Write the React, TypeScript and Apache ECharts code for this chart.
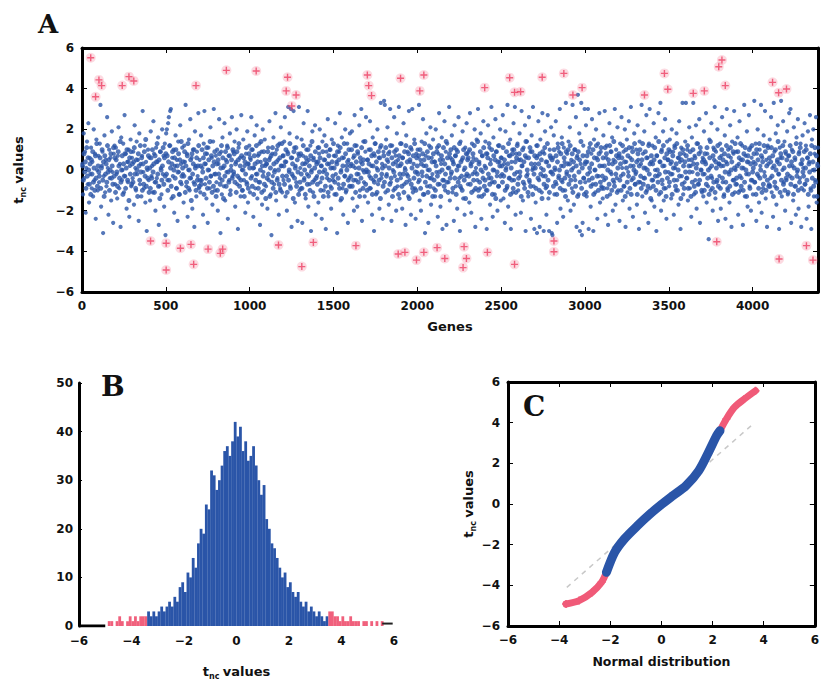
import React, { useEffect, useRef } from "react";
import * as echarts from "echarts";

// ---------- Panel A: t_nc value of every 4th gene (blue = non-outlier) ----------
const GENE_STEP = 4;
const blueG0 = [
  .3,-1.2,1.8,-.4,.9,-2.1,.1,1.4,-.7,2.3,-1.6,.6,-.2,1.1,-.9,.4,-1.3,2.0,-.5,.8,-2.4,1.5,.0,-1.0,.7,
  -.6,1.3,3.2,-1.8,.2,.9,-3.1,-.3,1.7,-1.1,.5,-.8,2.6,.1,-2.2,1.0,-.4,.6,-1.5,1.9,-.1,-2.6,.8,1.2,-.7,
  1.1,-.2,-1.4,.7,2.1,-.9,.3,-2.8,1.6,-.5,.0,1.3,-1.1,2.7,-.3,.8,-1.9,.4,-.6,1.0,-2.3,.2,1.5,-.8,.6,
  -.4,.9,-1.7,2.2,.1,-1.0,1.4,-.2,.5,-2.5,1.8,-.7,.3,-1.3,.7,2.9,-.1,-.9,1.2,-1.6,.4,-3.0,.0,1.0,-.5,
  .6,-1.5,1.9,-.3,.2,-1.1,2.4,.8,-.6,-2.0,1.1,-.4,.4,1.6,-2.7,-.8,.9,.1,-1.2,2.0,-.2,.7,-1.8,1.3,-3.2,
  1.8,2.0,-.5,2.3,2.6,1.2,2.9,3.0,-1.4,.6,-.3,1.0,-2.1,.2,1.7,-.9,.5,-2.5,1.4,-.1,-1.2,2.2,.3,-.7,1.1,
  -.2,-1.6,1.2,.4,3.2,-.8,.8,-2.3,.0,1.5,-1.0,2.5,-.4,.6,-1.9,1.0,-.6,-2.8,1.9,.2,-1.3,.9,-.3,2.8,-.9,
  .5,-1.1,1.7,-.5,.1,-2.2,1.3,2.9,-.7,.3,-1.4,.8,-2.6,1.1,.0,-.9,2.1,-.3,.6,-1.7,1.4,3.0,-.2,-1.0,.7,
  -.6,1.0,-2.0,.3,2.5,-.4,-3.1,.9,-1.2,1.6,.1,-.8,2.3,-1.5,.5,-.1,1.2,-2.4,.7,-.5,1.8,-1.0,.2,2.6,-.3,
  .9,-.2,1.4,-1.8,.4,2.0,-.7,-2.9,1.1,-.4,.6,-1.3,2.7,.0,-1.0,1.5,-.5,.2,-2.1,.8,-.6,1.9,-1.6,.3,1.2,
  -1.1,.5,2.6,-.3,1.0,-2.3,.1,1.7,-.9,-.2,2.2,-1.4,.7,-.6,1.3,-2.7,.4,.9,-1.7,2.0,-.1,-1.0,1.5,.2,-.8,
];
const blueG1 = [
  .3,-1.9,1.1,-.5,2.4,.6,-1.2,-3.2,.8,-.3,1.6,-.7,.0,2.8,-1.5,1.0,-.4,.5,-2.2,1.3,-.9,2.1,.2,-1.1,.7,
  -.5,1.4,2.6,-1.3,.4,-2.0,.9,3.1,-.1,1.8,-.8,3.0,-2.8,.6,-.3,2.9,1.1,-1.6,.2,-.6,1.6,-2.5,.8,3.1,-1.0,
  .1,-.9,1.5,-2.6,.7,2.3,-.4,.3,-1.4,1.0,-.2,2.9,-1.8,.5,-.7,1.2,-3.0,.0,1.9,-1.1,.6,-.5,2.2,-2.2,.4,
  -.3,1.1,-1.6,.8,2.0,-.6,.2,-2.4,1.4,-.1,-1.0,1.7,.5,-2.9,.9,-.4,2.5,-1.3,.3,1.0,-.8,-1.9,1.5,.1,-.5,
  .7,-1.2,2.3,-.2,.4,-3.1,1.2,-.7,.9,2.8,-1.5,.0,1.6,-.9,-2.2,.6,-.3,2.0,-1.1,.2,1.3,-2.6,.5,-.4,1.8,
  -.8,.3,1.9,-1.4,.6,-2.0,2.7,.1,-.5,1.2,-1.8,.8,-.2,2.2,-1.0,.4,3.0,-2.5,.0,1.4,-.6,-1.3,.9,2.6,-.1,
  .5,-1.6,1.0,-.3,2.4,-.9,.2,-2.2,1.6,-.5,-3.0,.7,1.3,-1.2,.1,2.0,-.7,.6,-1.9,1.1,3.3,-.4,.3,-2.4,.9,
  3.4,3.2,-1.1,1.5,-.2,2.1,.4,-1.7,.9,3.0,-.6,-2.5,1.2,.0,-1.0,2.6,-.3,.7,-2.0,1.8,-.8,.5,3.1,-1.4,.2,
  -.4,1.3,-1.9,.6,2.3,-.7,.1,-2.7,1.7,-.2,.9,-1.3,2.9,-.5,.4,-2.2,1.0,3.0,-1.1,.3,1.5,-.9,-2.4,.8,-.1,
  1.0,-.6,3.2,-1.5,.5,-2.0,1.4,-.3,2.5,.2,-1.2,-3.1,.7,1.8,-.8,.0,-2.6,1.2,-.4,2.1,-1.7,.6,-.2,1.5,-.9,
  .4,-1.3,2.0,-.1,1.1,-2.3,.8,2.8,-.7,-1.8,.3,1.6,-2.9,.5,-.5,2.4,-1.0,.9,-2.7,1.3,.1,-.6,3.1,-1.5,.6,
];
const blueG2 = [
  -.2,1.7,-1.1,.4,-2.5,2.2,.7,-.8,1.0,-1.9,.2,2.6,-.4,-3.0,1.4,-.9,.5,1.9,-1.4,.0,-2.2,1.1,-.3,2.3,.8,
  -.7,.9,-1.6,2.8,.3,-2.1,1.3,-.2,.6,-1.0,2.0,-2.8,.1,1.5,-.5,3.0,-1.3,.4,-.9,1.8,-2.4,.7,-.1,2.4,-1.2,
  .2,1.4,-1.0,-2.9,.8,2.2,-.4,1.1,-1.7,.5,3.1,-.6,-2.3,1.6,.0,-1.2,2.5,.9,-.3,-2.0,1.2,-.8,.4,2.0,-1.5,
  .6,-.2,2.7,-1.4,.3,-2.6,1.9,.1,-.9,3.2,-1.8,.7,-.4,1.5,-2.9,.4,1.0,-1.1,2.3,-.5,3.1,-2.2,.8,-.1,1.3,
  -1.0,.5,1.8,-.3,-2.1,2.9,.2,-1.5,1.1,-.7,2.2,-3.0,.6,1.4,-.2,-1.3,2.6,-.6,.9,-2.4,1.7,.0,3.1,-.8,-2.9,
  .3,-1.6,1.2,-3.1,.7,2.4,-.5,-2.8,1.5,.1,-1.1,2.8,-.3,-3.0,.8,1.9,-.9,-2.2,.4,2.7,-1.4,-3.0,1.0,-.1,2.1,
  -3.1,-3.2,.6,1.7,-1.2,.0,2.4,-.7,-2.6,1.3,-.4,.9,3.0,-1.9,.2,1.6,-.6,-2.3,1.1,.4,-1.0,3.3,-.2,.8,-1.5,
  1.4,-.3,2.1,-2.0,.5,-.9,3.2,.1,-1.7,1.0,-.5,2.6,-2.8,.7,3.7,-1.2,1.8,-3.0,.3,3.3,-3.2,-2.6,1.2,-.4,3.0,
  -.6,2.2,-1.3,.4,3.0,-2.9,1.1,-.1,-1.8,.8,2.5,-.7,-3.0,1.5,.0,-1.1,2.0,.6,-2.4,1.3,-.3,2.8,-1.6,.9,-.8,
  .2,-1.4,1.7,-.5,2.9,-2.2,.6,1.2,-.9,-2.7,.3,2.3,-1.2,.9,-.2,1.6,-2.0,.5,-.6,3.0,-1.7,1.0,-.4,2.1,-1.0,
  .7,-2.5,1.3,-.3,2.6,.1,-1.5,.9,-.8,2.0,-2.8,.4,1.5,-1.1,-.1,2.4,-1.9,.6,3.1,-.5,1.1,-2.3,.2,1.8,-.7,
];
const blueG3 = [
  -.2,1.0,-1.7,2.2,.5,-2.9,1.4,-.6,.3,3.2,-1.3,.8,-.4,1.9,-2.1,.1,2.7,-1.0,.6,-2.6,1.3,3.0,-.9,.4,-1.5,
  1.2,-.5,2.3,-1.8,.0,1.6,-3.0,.7,-.3,2.8,-1.2,.4,3.3,-2.0,1.0,-.7,1.9,-1.5,.2,2.5,-.9,-2.4,1.4,.5,-.1,
  -.8,1.5,.3,-1.4,2.0,-.2,.9,-2.2,1.2,.1,-1.0,1.8,-.5,.6,-1.7,2.4,.4,-2.9,1.1,-.3,3.3,-1.2,.8,-.6,1.4,
  3.3,-.4,1.0,-1.5,.5,2.1,-.9,.2,-2.3,1.6,-.1,3.3,-1.2,.7,-.5,2.2,-1.9,.3,1.3,-.7,2.5,-2.6,.9,.0,-1.1,
  .6,-1.3,1.9,-.2,.4,2.8,-1.6,.8,-.8,-3.4,1.5,.1,-1.0,2.3,-.4,-2.0,1.1,.5,3.1,-1.4,.9,-.6,2.0,-2.5,.3,
  -.3,1.3,-1.9,.7,2.6,-.6,.2,-1.2,1.7,-2.4,.4,3.0,-.9,1.0,-.1,-1.6,2.2,.6,-2.8,1.4,-.5,.8,2.9,-1.1,.0,
  .9,-.7,1.6,-2.2,.3,2.4,-1.0,.5,-.4,1.2,-2.7,.1,3.2,-1.3,.7,-.2,1.9,-1.8,.4,2.7,-.8,1.1,-2.0,.6,-.5,
  -1.2,.4,3.4,-.6,1.3,-2.5,.8,2.0,-.3,-1.6,1.0,.2,3.2,-2.1,.6,-.9,1.7,-.1,2.9,-1.4,.5,-2.8,1.2,.3,-.7,
  1.5,-.4,2.6,-1.1,.1,-2.3,3.3,.9,-.8,1.8,-1.7,.4,2.2,-.2,-2.9,1.1,.6,3.4,-1.3,.0,2.4,-.6,1.4,-2.0,.8,
  -.5,1.9,-1.2,.7,2.8,-.3,3.0,-2.6,1.0,.2,-1.5,2.1,-.8,.5,-2.2,1.6,-.1,2.5,-1.9,.9,-.4,1.3,-2.8,.3,1.7,
  .1,-1.0,2.3,-.7,1.2,-2.4,.6,1.9,-1.8,.4,2.7,-.9,-2.9,1.5,.0,2.0,-1.3,.8,-.5,2.6,-1.6,.3,1.1,-2.2,.5,
];
// the remaining genes (offset by two), mostly in the dense central band
const coreG0 = [
  .2,-.5,.8,-.1,.4,-.9,1.1,-.3,.6,.0,-.7,.3,-1.2,.5,-.2,.9,-.6,.1,-1.0,.7,-.4,1.3,-.8,.2,-.1,
  -.3,.6,-.9,.1,1.0,-.5,.4,-1.3,.7,-.2,.3,-.6,1.2,-.1,.5,-1.0,.0,.8,-.4,.2,-.7,1.1,-.3,.6,-1.1,
  .5,-.1,-.8,.9,.2,-.4,1.4,-.6,.0,.7,-1.2,.3,-.3,.8,-.9,.1,1.0,-.5,.4,-1.5,.6,-.2,.9,-.7,.3,
  -.6,.4,1.1,-.2,-.9,.5,.0,-1.3,.8,.2,-.5,1.2,-.1,.6,-1.0,.3,-.7,.9,-.3,1.5,-.8,.1,-.4,.7,-1.1,
  .1,-.9,.6,-.4,1.0,-.1,.3,-1.1,.7,-.6,.4,1.3,-.2,-.8,.5,-1.4,.9,.0,-.5,.2,1.1,-.7,.6,-.3,.8,
  -.2,.7,-1.0,.4,-.5,1.2,.1,-.8,.3,.9,-1.3,.0,.6,-.4,1.0,-.9,.2,-.1,.8,-1.2,.5,-.6,1.4,-.3,.1,
  .4,-.3,.9,-1.1,.2,-.6,.7,1.3,-.9,.0,-.4,.5,-1.5,.8,-.2,.3,1.0,-.7,.1,-1.0,.6,-.5,.2,1.2,-.8,
  -.5,.2,-.7,1.0,-.1,.6,-1.2,.3,.8,-.4,1.1,-.9,.0,.5,-.6,1.4,-.3,.7,-1.1,.2,-.8,.4,.9,-.2,-1.3,
  .3,-1.0,.5,-.2,.8,-.7,.1,1.2,-.5,.6,-1.4,.2,-.3,.9,-.8,.4,1.1,-.1,-.6,.7,-1.2,.0,.5,-.4,1.0,
  -.1,.8,-.6,.3,-1.1,.9,-.3,.5,1.3,-.8,.2,-.5,.7,-1.0,.0,.6,-1.3,.4,-.2,1.1,-.7,.3,-.9,.8,.1,
  .6,-.4,1.0,-.8,.1,-1.2,.7,.3,-.5,1.2,-.2,.4,-.9,.8,-.6,.0,1.4,-1.1,.2,-.3,.9,-.7,.5,-1.4,.3,
];
const coreG1 = [
  -.4,.9,-.2,.5,-1.3,.1,.7,-.6,1.1,-.9,.3,-.1,.8,-1.1,.4,-.5,1.2,.0,-.7,.6,-1.0,.2,1.3,-.3,.7,
  .2,-.7,.4,1.0,-.3,-1.1,.8,-.5,.0,1.3,-.9,.6,-.2,.3,-1.4,.9,-.4,.1,1.1,-.8,.5,-.1,-1.2,.7,-.6,
  .8,-.2,-.9,.3,1.2,-.5,.0,-1.2,.6,.4,-.7,1.0,-.3,.2,-1.0,.7,-.1,1.4,-.6,.5,-1.3,.1,.9,-.4,.3,
  -.7,.4,1.1,-.1,.6,-1.0,.2,-.4,.9,-1.3,.5,.0,-.8,1.2,-.2,.3,-1.1,.7,-.5,1.0,.1,-.9,.4,-.3,1.3,
  .1,-.6,.7,-1.2,.3,.9,-.4,.5,-.9,1.1,-.1,-1.4,.6,.2,-.7,1.3,-.3,.8,-1.0,.0,.4,-.5,1.0,-.8,.2,
  -.3,1.0,-.8,.2,-.5,.7,1.2,-1.1,.4,-.2,.9,-.6,.1,-1.3,.6,-.4,1.1,.3,-.9,.5,-.1,1.4,-.7,.0,-1.0,
  .5,-.1,.3,-.9,1.0,-.4,.7,-1.2,.2,.8,-.6,1.3,-.3,.4,-1.1,.0,.9,-.5,.6,-1.4,1.2,-.2,.1,-.8,.7,
  -.6,.2,1.1,-.3,.5,-1.0,.8,.1,-.7,1.2,-.4,.6,-1.3,.3,-.1,.9,-.9,.4,1.0,-.5,.2,-1.2,.7,-.2,1.3,
  .3,-.8,.6,-.2,-1.1,.9,.0,1.2,-.6,.4,-.3,.8,-1.4,.5,1.1,-.7,.1,-.9,.7,-.4,1.3,-.1,-1.0,.6,.2,
  -.2,.7,-.5,1.0,-.9,.3,-.1,.8,-1.2,.5,1.3,-.6,.2,-.3,.9,-1.1,.6,.0,-.8,1.1,-.4,.4,-1.3,.8,-.5,
  .4,-1.0,.2,.9,-.3,-.7,1.2,-.1,.5,-1.3,.7,.0,-.5,1.1,-.8,.3,-.2,1.4,-.6,.6,-1.1,.1,.8,-.4,1.0,
];
const coreG2 = [
  -.1,.5,-.9,.3,1.1,-.4,.7,-1.2,.0,.9,-.6,.2,1.3,-.8,.4,-.3,-1.0,.6,1.0,-.5,.1,-1.4,.8,-.2,.5,
  .6,-.3,1.0,-.7,.2,-1.1,.4,.8,-.5,1.2,-.1,-.9,.5,-.2,1.4,-1.0,.3,-.6,.9,.0,-1.3,.7,-.4,1.1,-.8,
  -.5,.1,.8,-1.0,.6,-.2,1.3,-.7,.3,-.4,1.0,-1.2,.0,.7,-.6,.5,-1.4,.9,-.1,.4,-.8,1.2,.2,-.3,.6,
  .2,-.6,1.1,-.3,.5,-1.0,.0,.9,-.8,.3,1.3,-.4,.7,-1.2,.1,-.5,.8,-.9,1.0,-.2,.4,-1.1,.6,1.2,-.7,
  -.4,.8,-.1,.5,-1.3,.2,1.0,-.6,.4,-.9,.7,1.4,-.3,.0,-1.1,.6,-.5,1.1,-.8,.3,.9,-1.2,.1,-.2,.7,
  .1,-.9,.6,1.2,-.4,.3,-1.0,.8,-.2,.5,-1.4,.9,.0,-.7,1.1,-.3,.4,-.8,1.3,-.5,.2,-1.1,.7,.6,-.1,
  .5,-.2,-.8,1.0,.1,-.6,.7,-1.2,.4,1.1,-.3,.0,-.9,.8,-.5,1.3,-1.0,.2,.6,-.4,-1.3,.9,-.1,.3,1.0,
  -.7,.3,1.2,-.5,.0,.8,-1.1,.4,-.3,1.0,-.8,.2,.6,-1.3,.9,-.1,.5,-.6,1.4,-.9,.1,.7,-.4,-1.2,.3,
  .4,-1.1,.7,-.2,.9,-.5,.1,1.3,-.8,.3,-.4,1.0,-1.2,.6,.0,-.7,1.2,-.3,.5,-1.0,.8,.2,-.6,1.1,-.9,
  -.3,.6,-.9,.2,1.1,-.4,.8,-1.3,.0,.5,-.7,1.2,-.1,.9,-1.0,.3,-.5,1.4,-.8,.4,-.2,.7,-1.1,.1,.6,
  .8,-.5,.3,-1.0,.6,1.2,-.2,-.8,.4,-1.3,1.0,.1,-.6,.7,-.3,1.1,-.9,.2,-1.2,.5,.9,-.4,.0,1.3,-.7,
];
const coreG3 = [
  -.1,.4,-1.2,.8,-.6,.2,1.0,-.3,-.9,.5,1.3,-.7,.1,-.4,.9,-1.1,.6,.0,-.8,1.2,-.2,.3,-1.4,.7,-.5,
  .3,-.8,.5,1.1,-.3,-1.0,.7,.0,-.6,1.4,-.2,.4,-1.1,.9,-.5,.2,1.2,-.9,.6,-.1,-1.3,.8,-.4,.5,1.0,
  -.6,.9,-.2,.4,-1.2,.7,.1,-.5,1.1,-.8,.3,1.3,-1.0,.0,.6,-.3,.8,-1.4,.5,-.7,1.0,.2,-.9,.4,-.1,
  .7,-.4,1.2,-.9,.2,-.1,.9,-1.3,.5,-.6,1.0,.3,-.8,.6,-1.1,.1,1.3,-.2,-.7,.8,-.5,1.1,.0,-1.0,.4,
  -.2,.5,-1.0,.8,.3,-.7,1.1,-.4,.0,-1.2,.6,1.4,-.3,.2,-.9,.7,-.6,1.0,-1.1,.4,.1,-.5,1.2,-.8,.3,
  .6,-.9,.2,1.0,-.4,.5,-1.3,.8,-.1,-.6,1.2,.3,-1.0,.7,-.2,-.8,1.1,.0,.4,-1.2,.9,-.5,.1,1.3,-.7,
  -.4,.2,.9,-1.1,.6,-.3,1.3,-.8,.1,.5,-1.0,.8,-.6,1.1,.0,-1.3,.4,.7,-.2,1.0,-.9,.3,-.5,1.2,-.1,
  .1,.8,-.6,.3,-1.2,1.0,-.2,.5,-.9,1.3,-.4,.0,.7,-1.1,.4,-.7,1.2,-.3,.9,-1.0,.2,-.5,1.1,-.8,.6,
  -.8,.4,1.1,-.3,.7,-1.3,.2,-.6,1.0,.0,-.9,.5,1.4,-.2,.3,-1.1,.8,-.5,.6,1.2,-.7,.1,-1.0,.9,-.4,
  .5,-.2,-1.1,.7,.2,1.2,-.7,.4,-.4,.9,-1.2,.1,.6,-.8,1.3,-.3,.0,-1.0,.8,-.6,1.1,.3,-.9,.5,-.1,
  -.3,.9,-.7,.1,1.0,-.5,.6,-1.2,.3,-.1,.8,-1.0,1.2,-.4,.4,-.8,.0,1.1,-.6,.7,-1.3,.2,.9,-.2,.5,
];

// outlier genes (red crosses)
const redGenes = [
  52,101,117,81,280,309,240,680,861,1039,409,502,587,650,752,839,825,502,666,
  1226,1218,1277,1251,1702,1710,1727,1900,2039,2015,1172,1380,1634,1311,1886,1926,1995,2039,2118,2164,
  2402,2551,2580,2616,2745,2874,2983,2928,2279,2293,2273,2418,2580,2815,2815,
  3474,3494,3355,3646,3712,3817,3798,3837,4119,4155,4202,3786,4321,4158,4360,
];
const redVals = [
  5.52,4.43,4.15,3.6,4.59,4.38,4.15,4.15,4.9,4.87,-3.49,-3.6,-3.85,-3.66,-3.89,-3.89,-4.1,-4.92,-4.64,
  4.56,3.89,3.69,3.15,4.67,4.15,3.66,4.51,4.67,3.89,-3.69,-3.56,-3.72,-4.75,-4.13,-4.05,-4.43,-4.05,-3.82,-4.35,
  4.05,4.54,3.82,3.85,4.56,4.75,4.05,3.69,-3.77,-4.35,-4.8,-4.05,-4.64,-3.49,-4.02,
  4.75,3.97,3.69,3.77,3.89,5.41,5.08,4.15,4.31,3.8,3.98,-3.53,-3.72,-4.38,-4.43,
];

// ---------- Panel B: histogram of t_nc values ----------
const HIST_START = -5;
const HIST_BIN = 0.1;
const histCounts = [
  0,1,1,0,1,2,1,0,1,2,1,2,1,2,2,2,3,2,3,2,
  3,4,3,4,5,4,6,5,8,9,7,11,10,14,12,17,20,19,25,24,
  32,31,28,30,33,36,37,35,38,42,39,41,36,38,34,35,37,33,30,27,
  29,22,20,17,16,14,12,10,11,8,9,7,6,7,5,4,5,3,4,3,
  2,3,2,1,2,3,3,2,2,1,2,1,1,2,1,1,1,0,1,1,
  0,1,0,1,0,1,0,0,0,0,
];
const histLowCut = -3.4;
const histHighCut = 3.5;
const histBaseLeft = [[-6, 0], [-5, 0]];
const histBaseRight = [[5.55, 0.5], [5.95, 0.5]];

// ---------- Panel C: normal probability plot ----------
const qqRedLowQ = [-3.73, -3.22, -2.72, -2.34, -2.15];
const qqRedLowV = [-4.92, -4.75, -4.35, -3.85, -3.36];
const qqBlueQ = [-2.15, -1.83, -1.45, -0.94, -0.44, 0.0, 0.45, 0.96, 1.46, 1.84, 2.16, 2.29];
const qqBlueV = [-3.36, -2.38, -1.72, -1.07, -0.49, -0.03, 0.41, 0.9, 1.64, 2.54, 3.36, 3.6];
const qqRedHighQ = [2.29, 2.54, 2.86, 3.24, 3.68];
const qqRedHighV = [3.6, 4.18, 4.76, 5.16, 5.57];
const qqRefQ = [-3.7, 3.6];
const qqRefV = [-4.1, 3.95];

const BLUE = "#2a55a8";
const RED = "#ec3f63";
const FONT = "DejaVu Sans";
const PLUS = "path://M4,0h2v4h4v2h-4v4h-2v-4h-4v-2h4z";

const minus = (v: number) => String(v).replace("-", "\u2212");
const tickLabel = { fontFamily: FONT, fontWeight: "bold", fontSize: 12, color: "#111", formatter: minus };
const nameRich = {
  t: { fontFamily: FONT, fontWeight: "bold", fontSize: 13, color: "#111", lineHeight: 18, verticalAlign: "middle" },
  s: { fontFamily: FONT, fontWeight: "bold", fontSize: 8, color: "#111", lineHeight: 18, verticalAlign: "bottom" },
};
const tncName = "{t|t}{s|nc} {t|values}";

const frameAxis = (show: boolean) => ({
  axisLine: { show: true, onZero: false, lineStyle: { color: "#000", width: 3 } },
  axisTick: { show: true, inside: true, length: 5, lineStyle: { color: "#000", width: 1 } },
  splitLine: { show: false },
  axisLabel: show ? { ...tickLabel, margin: 8 } : { show: false },
});

function buildOption() {
  const bluePts = [...blueG0, ...blueG1, ...blueG2, ...blueG3].map((v, i) => [i * GENE_STEP + 2, v]);
  const corePts = [...coreG0, ...coreG1, ...coreG2, ...coreG3].map((v, i) => [i * GENE_STEP + 4, v]);
  const redPts = redGenes.map((g, i) => [g, redVals[i]]);
  const histData = histCounts.map((c, i) => {
    const x = Math.round((HIST_START + HIST_BIN * (i + 0.5)) * 100) / 100;
    const red = x < histLowCut || x > histHighCut;
    return { value: [x, c], itemStyle: { color: red ? "#f0607c" : BLUE } };
  });
  const zip = (a: number[], b: number[]) => a.map((q, i) => [q, b[i]]);

  return {
    animation: false,
    backgroundColor: "#fff",
    title: [
      { text: "A", left: 33, top: 6, textStyle: { fontFamily: "DejaVu Serif", fontWeight: "bold", fontSize: 26, color: "#111" } },
      { text: "B", left: 96, top: 367, textStyle: { fontFamily: "DejaVu Serif", fontWeight: "bold", fontSize: 28, color: "#111" } },
      { text: "C", left: 518, top: 387, textStyle: { fontFamily: "DejaVu Serif", fontWeight: "bold", fontSize: 28, color: "#111" } },
    ],
    grid: [
      { left: 82, top: 48, width: 736, height: 244, containLabel: false },
      { left: 79, top: 383, width: 315, height: 243, containLabel: false },
      { left: 508, top: 382, width: 313, height: 244, containLabel: false },
    ],
    xAxis: [
      {
        gridIndex: 0, type: "value", min: 0, max: 4390, interval: 500, position: "bottom",
        ...frameAxis(true),
        axisLabel: { ...tickLabel, margin: 8, showMaxLabel: false },
        name: "Genes", nameLocation: "middle", nameGap: 28,
        nameTextStyle: { fontFamily: FONT, fontWeight: "bold", fontSize: 13, color: "#111" },
      },
      { gridIndex: 0, type: "value", min: 0, max: 4390, interval: 500, position: "top", ...frameAxis(false) },
      {
        gridIndex: 1, type: "value", min: -6, max: 6, interval: 2, position: "bottom",
        axisLine: { show: false, onZero: false }, axisTick: { show: false }, splitLine: { show: false },
        axisLabel: { ...tickLabel, margin: 9 },
        name: tncName, nameLocation: "middle", nameGap: 36, nameTextStyle: { rich: nameRich },
      },
      {
        gridIndex: 2, type: "value", min: -6, max: 6, interval: 2, position: "bottom",
        ...frameAxis(true),
        name: "Normal distribution", nameLocation: "middle", nameGap: 29,
        nameTextStyle: { fontFamily: FONT, fontWeight: "bold", fontSize: 12.5, color: "#111" },
      },
      { gridIndex: 2, type: "value", min: -6, max: 6, interval: 2, position: "top", ...frameAxis(false) },
    ],
    yAxis: [
      {
        gridIndex: 0, type: "value", min: -6, max: 6, interval: 2, position: "left",
        ...frameAxis(true),
        name: tncName, nameLocation: "middle", nameGap: 55, nameTextStyle: { rich: nameRich },
      },
      { gridIndex: 0, type: "value", min: -6, max: 6, interval: 2, position: "right", ...frameAxis(false) },
      {
        gridIndex: 1, type: "value", min: 0, max: 50, interval: 10, position: "left",
        axisLine: { show: true, onZero: false, lineStyle: { color: "#000", width: 3 } },
        axisTick: { show: true, inside: true, length: 3, lineStyle: { color: "#000" } },
        splitLine: { show: false },
        axisLabel: { ...tickLabel, margin: 6 },
      },
      {
        gridIndex: 2, type: "value", min: -6, max: 6, interval: 2, position: "left",
        ...frameAxis(true),
        name: tncName, nameLocation: "middle", nameGap: 28, nameTextStyle: { rich: nameRich },
      },
      { gridIndex: 2, type: "value", min: -6, max: 6, interval: 2, position: "right", ...frameAxis(false) },
    ],
    series: [
      // A
      {
        type: "scatter", xAxisIndex: 0, yAxisIndex: 0, data: corePts, symbol: "circle", symbolSize: 5,
        itemStyle: { color: BLUE }, silent: true, z: 2,
      },
      {
        type: "scatter", xAxisIndex: 0, yAxisIndex: 0, data: bluePts, symbol: "circle", symbolSize: 4.2,
        itemStyle: { color: BLUE }, silent: true, z: 2,
      },
      {
        type: "scatter", xAxisIndex: 0, yAxisIndex: 0, data: redPts, symbol: "circle", symbolSize: 10,
        itemStyle: { color: "rgba(240,90,120,0.28)" }, silent: true, z: 3,
      },
      {
        type: "scatter", xAxisIndex: 0, yAxisIndex: 0, data: redPts, symbol: PLUS, symbolSize: 7,
        itemStyle: { color: RED }, silent: true, z: 4,
      },
      // B
      {
        type: "bar", xAxisIndex: 2, yAxisIndex: 2, data: histData, barWidth: 2.8, silent: true, z: 2,
      },
      {
        type: "line", xAxisIndex: 2, yAxisIndex: 2, data: histBaseLeft, symbol: "none",
        lineStyle: { color: "#000", width: 3 }, silent: true, z: 3,
      },
      {
        type: "line", xAxisIndex: 2, yAxisIndex: 2, data: histBaseRight, symbol: "none",
        lineStyle: { color: "#222", width: 2 }, silent: true, z: 3,
      },
      // C
      {
        type: "line", xAxisIndex: 3, yAxisIndex: 3, data: zip(qqRefQ, qqRefV), symbol: "none",
        lineStyle: { color: "#c8c8c8", width: 1.5, type: [5, 5] }, silent: true, z: 1,
      },
      {
        type: "line", xAxisIndex: 3, yAxisIndex: 3, data: zip(qqRedLowQ, qqRedLowV), symbol: PLUS, symbolSize: 8,
        itemStyle: { color: "#f05a78" }, lineStyle: { color: "#f05a78", width: 7, cap: "round" }, smooth: 0.3, silent: true, z: 3,
      },
      {
        type: "line", xAxisIndex: 3, yAxisIndex: 3, data: zip(qqRedHighQ, qqRedHighV), symbol: PLUS, symbolSize: 8,
        itemStyle: { color: "#f05a78" }, lineStyle: { color: "#f05a78", width: 7, cap: "round" }, smooth: 0.3, silent: true, z: 3,
      },
      {
        type: "line", xAxisIndex: 3, yAxisIndex: 3, data: zip(qqBlueQ, qqBlueV), symbol: "none",
        lineStyle: { color: BLUE, width: 9, cap: "round" }, smooth: 0.3, silent: true, z: 4,
      },
    ],
  };
}

export default function App() {
  const ref = useRef<HTMLDivElement>(null);
  useEffect(() => {
    document.body.style.margin = "0";
    if (!ref.current) return;
    const chart = echarts.init(ref.current, undefined, { renderer: "svg" });
    chart.setOption(buildOption() as any);
    return () => chart.dispose();
  }, []);
  return <div ref={ref} style={{ width: 822, height: 686, background: "#fff" }} />;
}
